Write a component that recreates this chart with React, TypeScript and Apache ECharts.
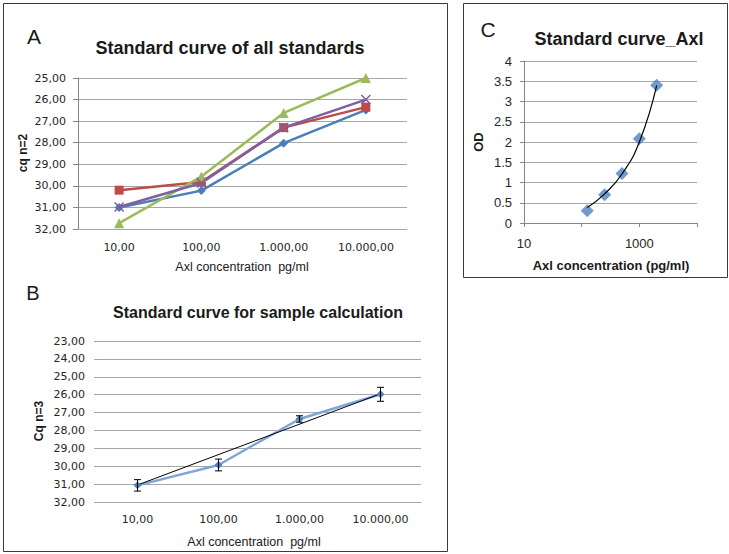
import React, { useEffect, useRef } from "react";
import * as echarts from "echarts";

// ---------- data ----------
const catLabels = ["10,00", "100,00", "1.000,00", "10.000,00"];
const stdA1 = [31.0, 30.22, 28.02, 26.48];
const stdA2 = [30.2, 29.82, 27.3, 26.35];
const stdA3 = [31.73, 29.57, 26.62, 25.0];
const stdA4 = [30.98, 29.87, 27.3, 26.0];

const meanB = [31.07, 29.93, 27.36, 25.98];
const sdB = [0.32, 0.33, 0.18, 0.39];
const trendBStart = 31.05;
const trendBEnd = 25.95;

const concC = [125, 250, 500, 1000, 2000];
const odC = [0.3, 0.7, 1.22, 2.08, 3.4];
const trendC = [0.38, 0.72, 1.21, 2.0, 3.4];

const fmtComma = (v: number) => v.toFixed(2).replace(".", ",");

const GRID_GRAY = "#a6a6a6";
const AXIS_GRAY = "#868686";
const TXT = "#262626";
const TICK_FONT = "DejaVu Sans";
const CAL_FONT = "Liberation Sans";

export default function App() {
  const ref = useRef<HTMLDivElement>(null);
  useEffect(() => {
    if (!ref.current) return;
    const chart = echarts.init(ref.current, undefined, { renderer: "svg" });

    const txt = (
      text: string,
      x: number,
      y: number,
      size: number,
      weight: string,
      family: string,
      rotation = 0,
      align = "center"
    ) => ({
      type: "text",
      x,
      y,
      rotation,
      silent: true,
      style: {
        text,
        fill: "#1a1a1a",
        fontSize: size,
        fontWeight: weight,
        fontFamily: family,
        textAlign: align,
        verticalAlign: "middle",
      },
    });

    const option: any = {
      animation: false,
      backgroundColor: "#ffffff",
      grid: [
        { left: 78, top: 78, width: 329, height: 151 },
        { left: 97, top: 341, width: 324, height: 161 },
        { left: 524, top: 61, width: 173, height: 162 },
      ],
      xAxis: [
        {
          type: "category",
          gridIndex: 0,
          data: catLabels,
          boundaryGap: true,
          axisLine: { show: true, lineStyle: { color: GRID_GRAY } },
          axisTick: { show: false },
          axisLabel: { color: TXT, fontFamily: TICK_FONT, fontSize: 11, margin: 13 },
        },
        {
          type: "category",
          gridIndex: 1,
          data: catLabels,
          boundaryGap: true,
          axisLine: { show: true, lineStyle: { color: GRID_GRAY } },
          axisTick: { show: false },
          axisLabel: { color: TXT, fontFamily: TICK_FONT, fontSize: 11, margin: 12 },
        },
        {
          type: "log",
          gridIndex: 2,
          logBase: 10,
          min: 10,
          max: 10000,
          axisLine: { show: true, lineStyle: { color: AXIS_GRAY } },
          axisTick: { show: true, length: 4, lineStyle: { color: AXIS_GRAY } },
          splitLine: { show: false },
          axisLabel: {
            color: TXT,
            fontFamily: CAL_FONT,
            fontSize: 13,
            margin: 14,
            formatter: (v: number) => (Math.abs(v - 10) < 1e-6 || Math.abs(v - 1000) < 1e-3 ? String(Math.round(v)) : ""),
          },
        },
      ],
      yAxis: [
        {
          type: "value",
          gridIndex: 0,
          inverse: true,
          min: 25,
          max: 32,
          interval: 1,
          axisLine: { show: true, lineStyle: { color: AXIS_GRAY } },
          axisTick: { show: true, length: 5, lineStyle: { color: AXIS_GRAY } },
          splitLine: { show: true, lineStyle: { color: GRID_GRAY } },
          axisLabel: { color: TXT, fontFamily: TICK_FONT, fontSize: 11, margin: 12, formatter: fmtComma },
        },
        {
          type: "value",
          gridIndex: 1,
          inverse: true,
          min: 23,
          max: 32,
          interval: 1,
          axisLine: { show: false },
          axisTick: { show: true, length: 3, lineStyle: { color: GRID_GRAY } },
          splitLine: { show: true, lineStyle: { color: GRID_GRAY } },
          axisLabel: { color: TXT, fontFamily: TICK_FONT, fontSize: 11, margin: 12, formatter: fmtComma },
        },
        {
          type: "value",
          gridIndex: 2,
          min: 0,
          max: 4,
          interval: 0.5,
          axisLine: { show: true, lineStyle: { color: AXIS_GRAY } },
          axisTick: { show: true, length: 4, lineStyle: { color: AXIS_GRAY } },
          splitLine: { show: true, lineStyle: { color: GRID_GRAY } },
          axisLabel: { color: TXT, fontFamily: CAL_FONT, fontSize: 13, margin: 12, formatter: (v: number) => String(v) },
        },
      ],
      series: [
        {
          type: "line",
          name: "std 1",
          xAxisIndex: 0,
          yAxisIndex: 0,
          data: stdA1,
          symbol: "diamond",
          symbolSize: 9,
          lineStyle: { color: "#4a7ebb", width: 2.5 },
          itemStyle: { color: "#4a7ebb" },
        },
        {
          type: "line",
          name: "std 2",
          xAxisIndex: 0,
          yAxisIndex: 0,
          data: stdA2,
          symbol: "rect",
          symbolSize: 9,
          lineStyle: { color: "#be4b48", width: 2.5 },
          itemStyle: { color: "#be4b48" },
        },
        {
          type: "line",
          name: "std 3",
          xAxisIndex: 0,
          yAxisIndex: 0,
          data: stdA3,
          symbol: "triangle",
          symbolSize: 10,
          lineStyle: { color: "#9bbb59", width: 2.5 },
          itemStyle: { color: "#9bbb59" },
        },
        {
          type: "line",
          name: "std 4",
          xAxisIndex: 0,
          yAxisIndex: 0,
          data: stdA4,
          symbol: "path://M0,0L10,10M10,0L0,10",
          symbolSize: 9,
          lineStyle: { color: "#7d60a0", width: 2.5 },
          itemStyle: { color: "none", borderColor: "#7d60a0", borderWidth: 1.5 },
        },
        {
          type: "line",
          name: "mean",
          xAxisIndex: 1,
          yAxisIndex: 1,
          data: meanB,
          symbol: "diamond",
          symbolSize: 8,
          lineStyle: { color: "#7ea6d8", width: 2.5 },
          itemStyle: { color: "#4f81bd" },
        },
        {
          type: "line",
          name: "trend",
          xAxisIndex: 1,
          yAxisIndex: 1,
          data: [
            [0, trendBStart],
            [catLabels.length - 1, trendBEnd],
          ],
          symbol: "none",
          lineStyle: { color: "#000000", width: 1 },
          z: 3,
        },
        {
          type: "custom",
          name: "err",
          xAxisIndex: 1,
          yAxisIndex: 1,
          data: meanB.map((m, i) => [i, m - sdB[i], m + sdB[i]]),
          z: 4,
          renderItem: (params: any, api: any) => {
            const i = api.value(0);
            const lo = api.coord([i, api.value(1)]);
            const hi = api.coord([i, api.value(2)]);
            const w = 3.5;
            const st = { stroke: "#000", lineWidth: 1 };
            return {
              type: "group",
              children: [
                { type: "line", shape: { x1: lo[0], y1: lo[1], x2: hi[0], y2: hi[1] }, style: st },
                { type: "line", shape: { x1: lo[0] - w, y1: lo[1], x2: lo[0] + w, y2: lo[1] }, style: st },
                { type: "line", shape: { x1: hi[0] - w, y1: hi[1], x2: hi[0] + w, y2: hi[1] }, style: st },
              ],
            };
          },
        },
        {
          type: "scatter",
          name: "OD",
          xAxisIndex: 2,
          yAxisIndex: 2,
          data: concC.map((c, i) => [c, odC[i]]),
          symbol: "diamond",
          symbolSize: 13,
          itemStyle: { color: "#4f81bd" },
          z: 3,
        },
        {
          type: "line",
          name: "fit",
          xAxisIndex: 2,
          yAxisIndex: 2,
          data: concC.map((c, i) => [c, trendC[i]]),
          smooth: true,
          symbol: "none",
          lineStyle: { color: "#000000", width: 1.2 },
          z: 4,
        },
      ],
      graphic: [
        { type: "rect", shape: { x: 3.5, y: 3.5, width: 444, height: 548 }, style: { fill: "none", stroke: "#3a3a3a", lineWidth: 1 }, silent: true },
        { type: "rect", shape: { x: 463.5, y: 3.5, width: 264, height: 274 }, style: { fill: "none", stroke: "#3a3a3a", lineWidth: 1 }, silent: true },
        txt("A", 34, 36, 21, "normal", CAL_FONT),
        txt("Standard curve of all standards", 230, 48, 18, "bold", CAL_FONT),
        txt("cq n=2", 23, 153, 12, "bold", CAL_FONT, Math.PI / 2),
        txt("Axl concentration  pg/ml", 242, 267, 12.5, "normal", CAL_FONT),
        txt("B", 33, 293, 20, "normal", CAL_FONT),
        txt("Standard curve for sample calculation", 258, 312, 16, "bold", CAL_FONT),
        txt("Cq n=3", 39, 421, 12, "bold", CAL_FONT, Math.PI / 2),
        txt("Axl concentration  pg/ml", 254, 542, 12.5, "normal", CAL_FONT),
        txt("C", 488, 29, 21, "normal", CAL_FONT),
        txt("Standard curve_Axl", 619, 39, 18, "bold", CAL_FONT),
        txt("OD", 478, 142, 13, "bold", CAL_FONT, Math.PI / 2),
        txt("Axl concentration (pg/ml)", 611, 265, 13, "bold", CAL_FONT),
      ],
    };
    chart.setOption(option);
    return () => chart.dispose();
  }, []);
  return (
    <div
      ref={ref}
      style={{ position: "fixed", left: 0, top: 0, width: 729, height: 554, background: "#fff" }}
    />
  );
}
